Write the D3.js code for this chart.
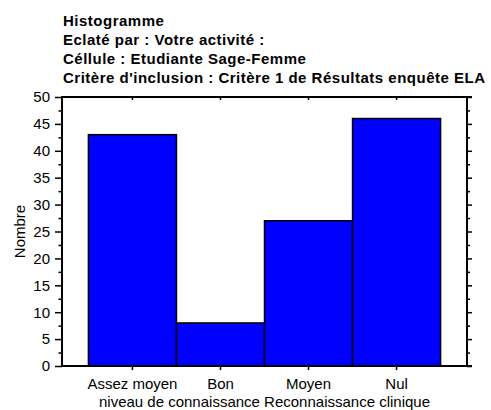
<!DOCTYPE html>
<html>
<head>
<meta charset="utf-8">
<script src="https://cdn.jsdelivr.net/npm/d3@7"></script>
<style>
  body { margin: 0; background: #fff; }
  svg { display: block; font-family: "Liberation Sans", Arial, sans-serif; }
</style>
</head>
<body>
<div id="chart"></div>
<script>
// chart data
const titleLines = [
  "Histogramme",
  "Eclaté par : Votre activité :",
  "Céllule : Etudiante Sage-Femme",
  "Critère d'inclusion : Critère 1 de Résultats enquête ELA"
];
const categories = ["Assez moyen", "Bon", "Moyen", "Nul"];
const counts = [43, 8, 27, 46];
const yTicks = [0, 5, 10, 15, 20, 25, 30, 35, 40, 45, 50];
const yMinorTicks = [2.5, 7.5, 12.5, 17.5, 22.5, 27.5, 32.5, 37.5, 42.5, 47.5];
const xTitle = "niveau de connaissance Reconnaissance clinique";
const yTitle = "Nombre";

const width = 491, height = 410;
const plot = { left: 62, right: 467, top: 97, bottom: 366 };

const svg = d3.select("#chart").append("svg")
  .attr("width", width)
  .attr("height", height);

// title block
svg.append("g")
  .selectAll("text")
  .data(titleLines)
  .enter()
  .append("text")
  .attr("x", 63)
  .attr("y", (d, i) => 26 + i * 19)
  .style("font-size", "15px")
  .style("font-weight", "bold")
  .style("letter-spacing", "0.5px")
  .text(d => d);

const x = d3.scaleBand()
  .domain(categories)
  .range([plot.left, plot.right])
  .paddingInner(0)
  .paddingOuter(0.3);

const y = d3.scaleLinear()
  .domain([0, 50])
  .range([plot.bottom, plot.top]);

// bars
svg.selectAll(".bar")
  .data(categories)
  .enter()
  .append("rect")
  .attr("class", "bar")
  .attr("x", d => x(d))
  .attr("y", (d, i) => y(counts[i]))
  .attr("width", x.bandwidth())
  .attr("height", (d, i) => y(0) - y(counts[i]))
  .attr("fill", "#0000ff")
  .attr("stroke", "#000")
  .attr("stroke-width", 1.5);

// axes
const tidy = g => {
  g.select(".domain").remove();
  g.selectAll("line").attr("stroke", "#000").attr("stroke-width", 1.5);
  g.selectAll("text").attr("fill", "#000").style("font-size", "15px");
};

svg.append("g")
  .attr("transform", `translate(${plot.left},0)`)
  .call(d3.axisLeft(y).tickValues(yTicks).tickSize(7).tickPadding(5))
  .call(tidy);
svg.append("g")
  .attr("transform", `translate(${plot.left},0)`)
  .call(d3.axisLeft(y).tickValues(yMinorTicks).tickSize(3.5).tickFormat(""))
  .call(tidy);

svg.append("g")
  .attr("transform", `translate(${plot.right},0)`)
  .call(d3.axisRight(y).tickValues(yTicks).tickSize(5).tickFormat(""))
  .call(tidy);
svg.append("g")
  .attr("transform", `translate(${plot.right},0)`)
  .call(d3.axisRight(y).tickValues(yMinorTicks).tickSize(3).tickFormat(""))
  .call(tidy);

svg.append("g")
  .attr("transform", `translate(0,${plot.bottom})`)
  .call(d3.axisBottom(x).tickSize(4).tickPadding(8))
  .call(tidy);
svg.append("g")
  .attr("transform", `translate(0,${plot.top})`)
  .call(d3.axisBottom(x).tickSize(3).tickFormat(""))
  .call(tidy);

// frame
const frame = svg.append("g")
  .attr("stroke", "#000")
  .attr("stroke-width", 2)
  .attr("fill", "none");
frame.append("line").attr("x1", plot.left).attr("x2", plot.left)
  .attr("y1", plot.top - 1).attr("y2", plot.bottom + 1);
frame.append("line").attr("x1", plot.right).attr("x2", plot.right)
  .attr("y1", plot.top - 1).attr("y2", plot.bottom + 1);
frame.append("line").attr("x1", plot.left - 1).attr("x2", plot.right + 5)
  .attr("y1", plot.top).attr("y2", plot.top);
frame.append("line").attr("x1", plot.left - 1).attr("x2", plot.right + 5)
  .attr("y1", plot.bottom).attr("y2", plot.bottom);

// axis titles
svg.append("text")
  .attr("x", (plot.left + plot.right) / 2)
  .attr("y", 407)
  .attr("text-anchor", "middle")
  .style("font-size", "15px")
  .text(xTitle);

svg.append("text")
  .attr("transform", `translate(25,${(plot.top + plot.bottom) / 2}) rotate(-90)`)
  .attr("text-anchor", "middle")
  .style("font-size", "15px")
  .text(yTitle);
</script>
</body>
</html>
